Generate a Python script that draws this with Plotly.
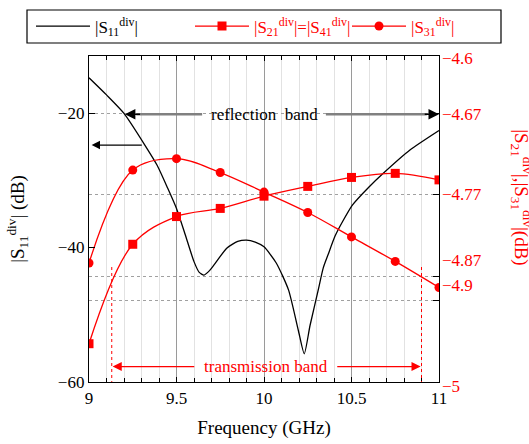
import plotly.graph_objects as go

# Frequency sweep (GHz)
freq_s11 = [9.00, 9.10, 9.20, 9.32, 9.39, 9.45, 9.50, 9.55, 9.60, 9.63, 9.657, 9.69, 9.72,
            9.787, 9.85, 9.90, 9.95, 10.00, 10.07, 10.14, 10.196, 10.23, 10.263, 10.31,
            10.339, 10.367, 10.406, 10.45, 10.505, 10.60, 10.68, 10.834, 11.00]
# |S11| of the divider (dB), left axis
s11_db = [-14.75, -17.3, -20.05, -24.8, -27.8, -31.2, -34.2, -38.1, -42.1, -43.7, -44.1, -43.4, -42.4,
          -40.1, -39.1, -38.9, -39.2, -39.9, -42.3, -46.3, -52.3, -55.8, -51.6, -46.3,
          -43.0, -41.0, -38.3, -36.1, -33.7, -31.0, -29.0, -25.5, -22.6]

freq_marked = [9.00, 9.25, 9.50, 9.75, 10.00, 10.25, 10.50, 10.75, 11.00]
# |S21| = |S41| (dB), right axis
s21_db = [-4.953, -4.831, -4.797, -4.787, -4.772, -4.760, -4.749, -4.744, -4.752]
# |S31| (dB), right axis
s31_db = [-4.854, -4.740, -4.726, -4.743, -4.767, -4.792, -4.822, -4.852, -4.884]

right_ticks = [-4.6, -4.67, -4.77, -4.87, -4.9, -5.0]
right_tick_text = ["\u22124.6", "\u22124.67", "\u22124.77", "\u22124.87", "\u22124.9", "\u22125"]
right_tick_shift = [-2, -1, 0, 16, 15, -4]

RED = "#ff0000"
FONT = "Liberation Serif"

fig = go.Figure()
fig.add_trace(go.Scatter(
    x=freq_s11, y=s11_db, mode="lines", line=dict(color="black", width=1.3, shape="spline", smoothing=0.6),
    name="|S<sub>11</sub><sup>div</sup>|", yaxis="y", legend="legend"))
fig.add_trace(go.Scatter(
    x=freq_marked, y=s21_db, mode="lines+markers",
    line=dict(color=RED, width=1.3, shape="spline", smoothing=1),
    marker=dict(symbol="square", size=9, color=RED),
    name="|S<sub>21</sub><sup>div</sup>|=|S<sub>41</sub><sup>div</sup>|",
    yaxis="y2", legend="legend2"))
fig.add_trace(go.Scatter(
    x=freq_marked, y=s31_db, mode="lines+markers",
    line=dict(color=RED, width=1.3, shape="spline", smoothing=1),
    marker=dict(symbol="circle", size=9, color=RED),
    name="|S<sub>31</sub><sup>div</sup>|",
    yaxis="y2", legend="legend3"))

annotations = []
# right-axis tick labels
for v, t, s in zip(right_ticks, right_tick_text, right_tick_shift):
    annotations.append(dict(x=1, xref="paper", y=v, yref="y2", text=t, showarrow=False,
                            xanchor="left", xshift=1, yshift=s, font=dict(color=RED, size=17)))
# right-axis title
annotations.append(dict(x=1, xref="paper", xanchor="center", xshift=83, y=0.567, yref="paper",
                        text="|S<sub>21</sub><sup>div</sup>|,|S<sub>31</sub><sup>div</sup>|(dB)",
                        textangle=90, showarrow=False, font=dict(color=RED, size=19)))

# reflection band
annotations.append(dict(x=10.0, y=-20.2, xref="x", yref="y", text="reflection&nbsp; band",
                        showarrow=False, font=dict(size=17)))
for tail, tip in [(9.655, 9.27), (10.345, 10.93)]:
    annotations.append(dict(x=tip, y=-20.2, ax=tail, ay=-20.2, xref="x", yref="y", axref="x", ayref="y",
                            text="", showarrow=True, arrowhead=0, arrowwidth=2.5, arrowcolor="#808080"))
for tail, tip in [(9.30, 9.205), (10.91, 11.0)]:
    annotations.append(dict(x=tip, y=-20.2, ax=tail, ay=-20.2, xref="x", yref="y", axref="x", ayref="y",
                            text="", showarrow=True, arrowhead=2, arrowsize=1.4, arrowwidth=1.5,
                            arrowcolor="black"))
# left-axis pointer for |S11|
annotations.append(dict(x=9.015, y=-24.76, ax=9.31, ay=-24.76, xref="x", yref="y", axref="x", ayref="y",
                        text="", showarrow=True, arrowhead=2, arrowsize=1.4, arrowwidth=1.2,
                        arrowcolor="black"))

# transmission band
annotations.append(dict(x=10.01, y=-57.7, xref="x", yref="y", text="transmission band",
                        showarrow=False, font=dict(size=17, color=RED)))
for tail, tip in [(9.61, 9.135), (10.41, 10.895)]:
    annotations.append(dict(x=tip, y=-57.7, ax=tail, ay=-57.7, xref="x", yref="y", axref="x", ayref="y",
                            text="", showarrow=True, arrowhead=2, arrowsize=1.4, arrowwidth=1.3,
                            arrowcolor=RED))

shapes = []
for fx in [9.13, 10.9]:
    shapes.append(dict(type="line", xref="x", yref="y", x0=fx, x1=fx, y0=-42.9, y1=-60,
                       line=dict(color=RED, width=1, dash="dot")))
# frame around the legend row
shapes.append(dict(type="rect", xref="paper", yref="paper",
                   x0=(27 - 89) / 350, x1=(501 - 89) / 350, y0=(382 - 43) / 326, y1=(382 - 10) / 326,
                   line=dict(color="black", width=1.2), fillcolor="rgba(0,0,0,0)"))

legend_y = (382 - 26.5) / 326


def legend_at(px, color):
    return dict(x=(px - 89) / 350, xanchor="left", y=legend_y, yanchor="middle",
                bgcolor="rgba(0,0,0,0)", borderwidth=0, itemwidth=54,
                font=dict(size=17, color=color, family=FONT))


fig.update_layout(
    width=529, height=444,
    margin=dict(l=89, r=90, t=56, b=62, autoexpand=False),
    plot_bgcolor="white", paper_bgcolor="white",
    font=dict(family=FONT, size=17, color="black"),
    showlegend=True,
    legend=legend_at(31, "black"),
    legend2=legend_at(190, RED),
    legend3=legend_at(347, RED),
    xaxis=dict(range=[9, 11], tickvals=[9, 9.5, 10, 10.5, 11], ticktext=["9", "9.5", "10", "10.5", "11"],
               ticks="inside", ticklen=5, tickcolor="black", automargin=False,
               showline=True, linecolor="black", linewidth=1.3, mirror="ticks",
               showgrid=True, gridcolor="#9a9a9a", gridwidth=1, zeroline=False,
               minor=dict(dtick=0.1, ticks="inside", ticklen=4, tickcolor="black",
                          showgrid=True, gridcolor="#e2e2e2", gridwidth=1),
               title=dict(text="Frequency (GHz)", font=dict(size=19), standoff=14)),
    yaxis=dict(range=[-60, -11.52], tickvals=[-60, -40, -20], ticks="inside", ticklen=6, tickcolor="black",
               showline=True, linecolor="black", linewidth=1.3, showgrid=False, zeroline=False,
               automargin=False,
               title=dict(text="|S<sub>11</sub><sup>div</sup>| (dB)", font=dict(size=19), standoff=28)),
    yaxis2=dict(range=[-5, -4.6], overlaying="y", side="right", tickvals=right_ticks,
                showticklabels=False, ticks="inside", ticklen=6, tickcolor="black",
                showline=True, linecolor="black", linewidth=1.3, automargin=False,
                showgrid=True, gridcolor="#a0a0a0", gridwidth=1.2, griddash="dot", zeroline=False),
    annotations=annotations,
    shapes=shapes,
)

fig.write_html("out.html")
